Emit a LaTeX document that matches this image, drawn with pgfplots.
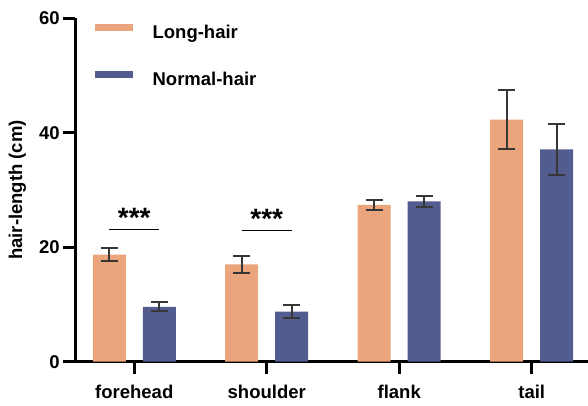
\documentclass[border=0pt]{standalone}
\usepackage{pgfplots}
\pgfplotsset{compat=1.18}
\usepackage{fontspec}
\setmainfont{Liberation Sans}
\definecolor{longc}{RGB}{235,165,124}
\definecolor{normc}{RGB}{82,92,142}
\definecolor{errc}{RGB}{55,55,55}
\newcommand{\bigf}{\fontsize{18.5}{22}\selectfont\bfseries}
\newcommand{\starf}{\fontsize{28}{30}\selectfont\bfseries}
\begin{document}
\begin{tikzpicture}
\begin{axis}[
  scale only axis, width=512.7pt, height=343.4pt,
  xmin=-0.445, xmax=3.425, ymin=0, ymax=60,
  axis x line*=bottom, axis y line*=left,
  axis line style={line width=3pt,-},
  xtick={0,1,2,3}, xticklabels={forehead,shoulder,flank,tail},
  ytick={0,20,40,60},
  tick style={line width=3pt,black},
  major tick length=12pt,
  tick align=outside,
  ticklabel style={font=\bigf},
  xticklabel style={yshift=-8pt},
  /pgf/number format/assume math mode=true,
  ylabel={hair-length (cm)},
  ylabel style={font=\bigf, at={(axis description cs:-0.113,0.5)}, anchor=center},
  legend style={draw=none, fill=none, at={(rel axis cs:0.0384,0.983)}, anchor=north west,
    inner sep=0pt, row sep=28.5pt,
    nodes={inner sep=0pt, text height=13.5pt, text depth=4pt, font=\bigf},
    /tikz/every odd column/.append style={column sep=20pt}},
  legend cell align=left,
]
\addlegendimage{legend image code/.code={\fill[longc] (0pt,3.3pt) rectangle (37pt,9.3pt);}}
\addlegendentry{Long-hair}
\addlegendimage{legend image code/.code={\fill[normc] (0pt,3.3pt) rectangle (37pt,9.3pt);}}
\addlegendentry{Normal-hair}
\addplot[ybar, bar width=33pt, bar shift=0pt, fill=longc, draw=none, forget plot,
  error bars/.cd, y dir=both, y explicit,
  error bar style={line width=2pt, errc},
  error mark options={rotate=90, mark size=8.3pt, line width=2pt, errc}]
  coordinates {(-0.1887,18.7) +- (0,1.1) (0.8113,17.0) +- (0,1.45) (1.8113,27.4) +- (0,0.85) (2.8113,42.3) +- (0,5.1)};
\addplot[ybar, bar width=33pt, bar shift=0pt, fill=normc, draw=none, forget plot,
  error bars/.cd, y dir=both, y explicit,
  error bar style={line width=2pt, errc},
  error mark options={rotate=90, mark size=8.3pt, line width=2pt, errc}]
  coordinates {(0.1887,9.6) +- (0,0.75) (1.1887,8.74) +- (0,1.17) (2.1887,28.0) +- (0,1.0) (3.1887,37.1) +- (0,4.5)};
\draw[line width=1.5pt] (axis cs:-0.189,23.1) -- (axis cs:0.189,23.1);
\draw[line width=1.5pt] (axis cs:0.811,22.9) -- (axis cs:1.189,22.9);
\node[anchor=base, font=\starf, inner sep=0pt] at (axis cs:0,23.4) {***};
\node[anchor=base, font=\starf, inner sep=0pt] at (axis cs:1,23.2) {***};
\end{axis}
\pgfresetboundingbox
\path ([shift={(-75.3pt,-43.3pt)}]current axis.south west) rectangle ++(588pt,405pt);
\end{tikzpicture}
\end{document}
